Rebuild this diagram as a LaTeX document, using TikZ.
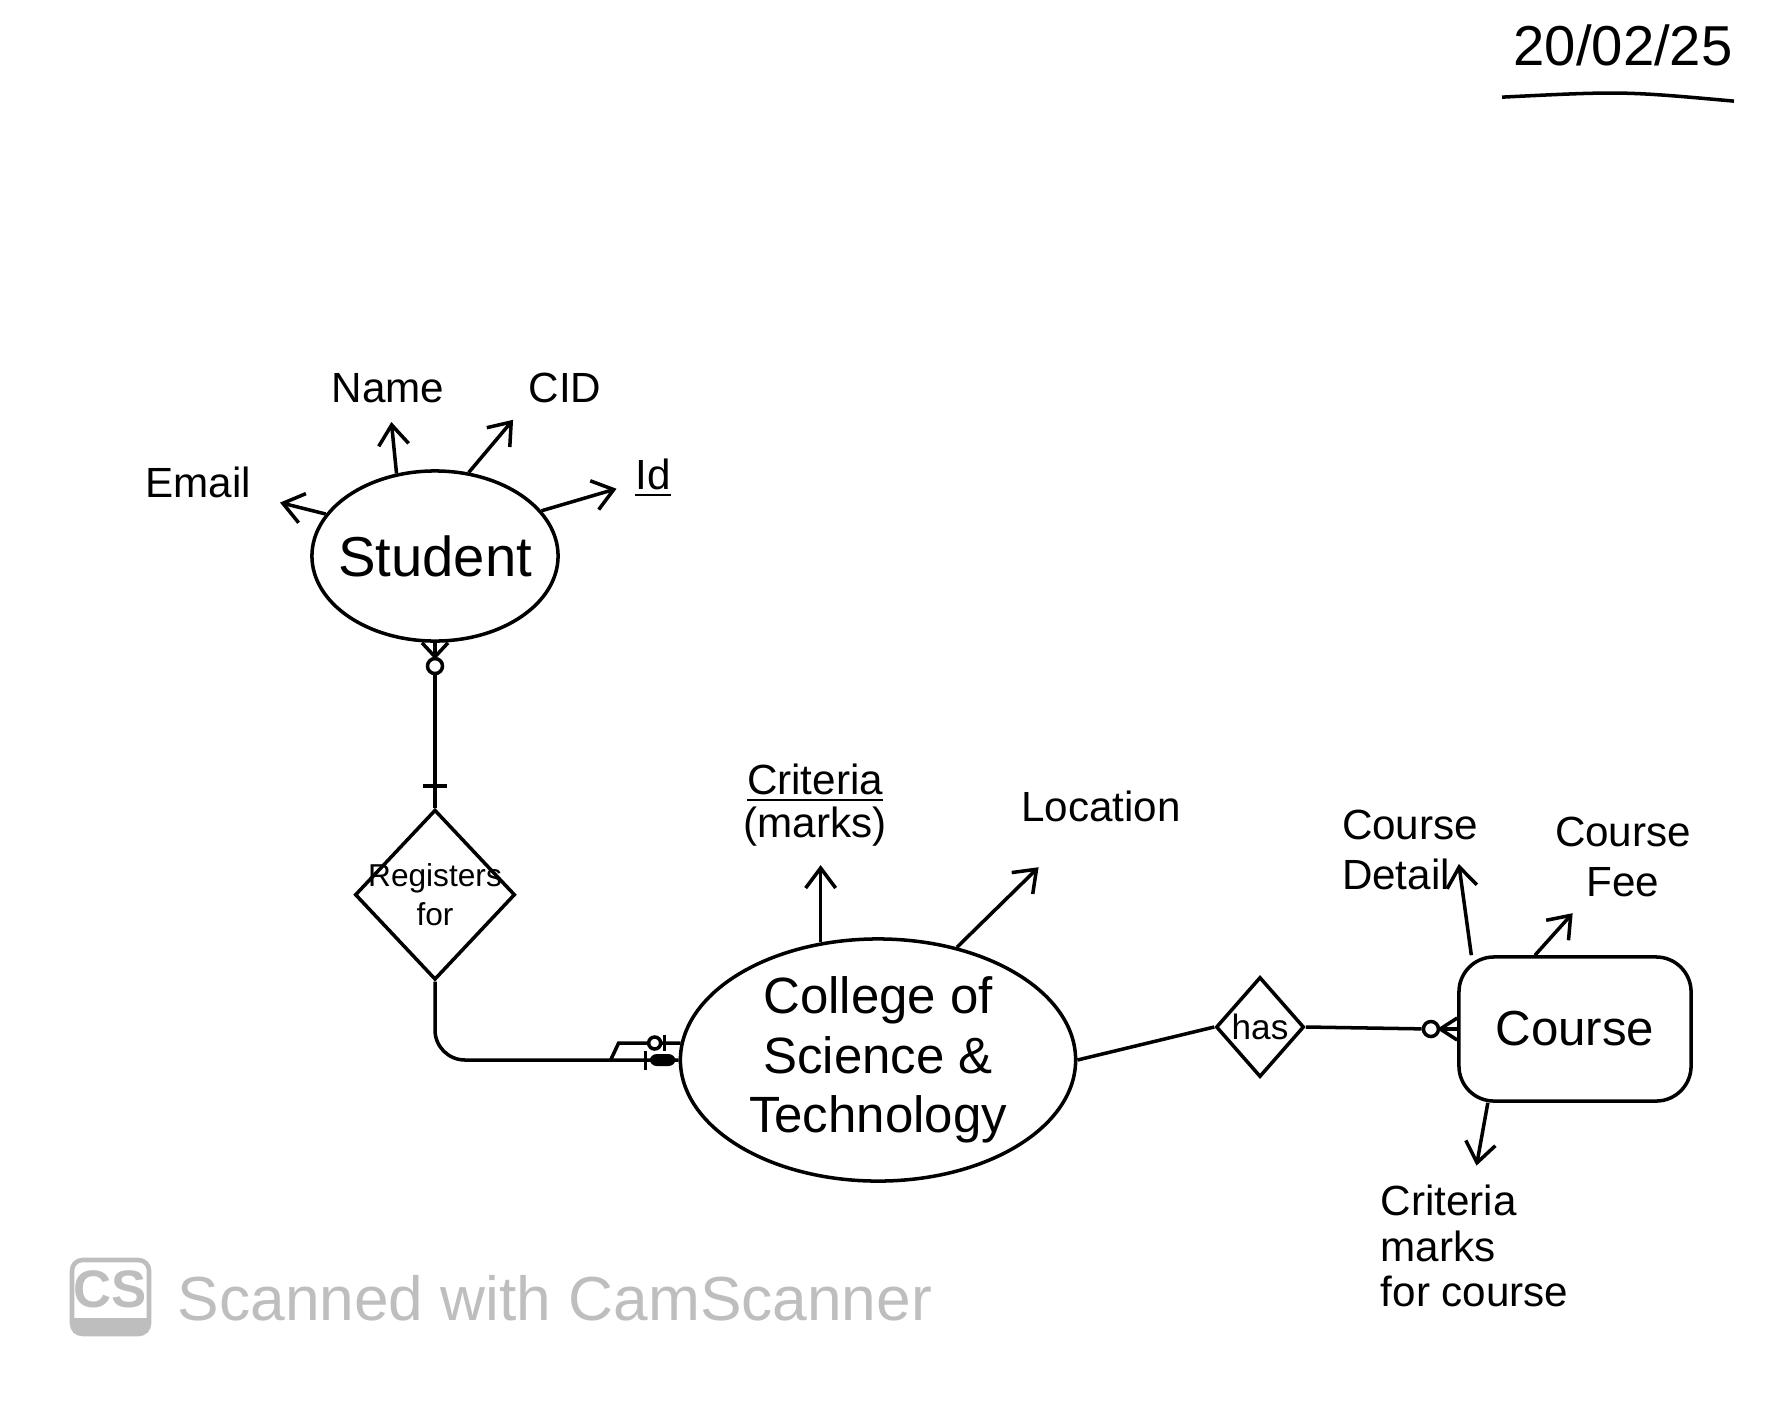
\documentclass[tikz,border=0pt]{standalone}
\usepackage{fontspec}
\setmainfont{Liberation Sans}
\usetikzlibrary{arrows.meta,positioning,shapes.geometric,calc}

\definecolor{scangray}{RGB}{190,190,190}

\begin{document}
\begin{tikzpicture}[
    x=0.01cm, y=-0.01cm,
    line width=1pt,
    entity/.style={draw, ellipse, inner sep=0pt, align=center},
    relbox/.style={draw, diamond, aspect=1, inner sep=-4pt, align=center},
    attr/.style={inner sep=2pt, align=center, font=\fontsize{12}{14}\selectfont},
    link/.style={-{Straight Barb[length=2mm,width=3mm]}, shorten >=3pt},
    ring/.style={draw, circle, inner sep=0pt, minimum size=0.15cm}
]
\useasboundingbox (0,0) rectangle (1780,1400);

\node[font=\fontsize{16}{19}\selectfont] (date) at (1623,45) {20/02/25};
\draw ($(date.south west)+(2,18)$) .. controls ($(date.south)+(0,12)$) .. ($(date.south east)+(-12,22)$);

\node[entity, inner sep=-3pt, minimum width=2.46cm, minimum height=1.70cm, font=\fontsize{16}{19}\selectfont] (student) at (435,556) {Student};
\node[entity, minimum width=3.95cm, minimum height=2.42cm, font=\fontsize{14.5}{17}\selectfont] (college) at (878,1060) {College of\\Science \&\\Technology};
\node[draw, rounded corners=0.35cm, minimum width=2.32cm, minimum height=1.44cm, font=\fontsize{14}{17}\selectfont] (course) at (1575,1029) {Course};

\node[relbox, below=1.65cm of student, minimum width=1.6cm, minimum height=1.7cm, font=\fontsize{9}{11}\selectfont] (reg) {Registers\\for};
\node[relbox, inner sep=-1pt, minimum width=0.88cm, minimum height=1cm, font=\fontsize{10}{12}\selectfont] (has) at (1260,1027) {has};

\node[attr] (email) at (198,482) {Email};
\node[attr] (name) at (388,388) {Name};
\node[attr] (cid) at (565,388) {CID};
\node[attr] (id) at (653,478) {\underline{Id}};
\node[attr, font=\fontsize{12}{12}\selectfont] (crit) at (815,805) {\underline{Criteria}\\(marks)};
\node[attr] (loc) at (1101,806) {Location};
\node[attr, align=left] (det) at (1410,850) {Course\\Detail};
\node[attr] (fee) at (1623,857) {Course\\Fee};
\node[attr, align=left, anchor=north west, font=\fontsize{12}{13}\selectfont] (cmk) at (1372,1176) {Criteria\\marks\\for course};

\draw[link, shorten >=6pt] (student.159) -- (email);
\draw[link] (student.115) -- (name);
\draw[link] (student.68) -- (cid.south west);
\draw[link] (student.23) -- (id);

\coordinate (sfoot) at ($(student.south)+(0,14)$);
\draw ($(student.south)+(-13,0)$) -- (sfoot) -- ($(student.south)+(13,0)$);
\draw (student.south) -- (sfoot);
\node[ring, below=0pt of sfoot] (sring) {};
\draw (sring) -- (reg.north);
\draw ($(reg.north)+(-12,-22)$) -- ($(reg.north)+(12,-22)$);

\draw[rounded corners=0.3cm] (reg.south) |- (college.west);
\draw ($(college.west)+(-68,0)$) -- ($(college.west)+(-60,-17)$) -- ($(college.west)+(2,-17)$);
\node[ring, minimum size=0.12cm, fill=white] (oring) at ($(college.west)+(-24,-17)$) {};
\draw ($(college.west)+(-14,-25)$) -- ($(college.west)+(-14,-9)$);
\draw ($(college.west)+(-33,-9)$) -- ($(college.west)+(-33,10)$);
\fill[rounded corners=2pt] ($(college.west)+(-29,-6)$) rectangle ($(college.west)+(-3,6)$);

\draw[link] (college.116) -- (college.116 |- crit.south);
\draw[link, shorten >=15pt] (college.55) -- (loc);

\draw (college.east) -- (has.west);
\coordinate (cfoot) at ($(course.west)+(-17,0)$);
\node[ring, left=0pt of cfoot] (cring) {};
\draw (has.east) -- (cring);
\draw (cring) -- (course.west);
\draw ($(course.west)+(0,-11)$) -- (cfoot) -- ($(course.west)+(0,11)$);

\draw[link, shorten >=0pt] ($(course.north west)!0.06!(course.north east)$) -- ($(det.east)+(-28,14)$);
\draw[link] ($(course.north west)!0.33!(course.north east)$) -- (fee);
\draw[link] ($(course.south west)!0.13!(course.south east)$) -- (cmk.north);

\draw[scangray, line width=1.3pt, rounded corners=3pt] (72,1260) rectangle (149,1334);
\fill[scangray] (73,1318) rectangle (148,1333);
\node[text=scangray, font=\bfseries\fontsize{15}{17}\selectfont] (cs) at (110,1289) {CS};
\node[text=scangray, anchor=west, inner sep=0pt, font=\fontsize{17.7}{21}\selectfont] (scan) at (176,1298) {Scanned with CamScanner};
\end{tikzpicture}
\end{document}
